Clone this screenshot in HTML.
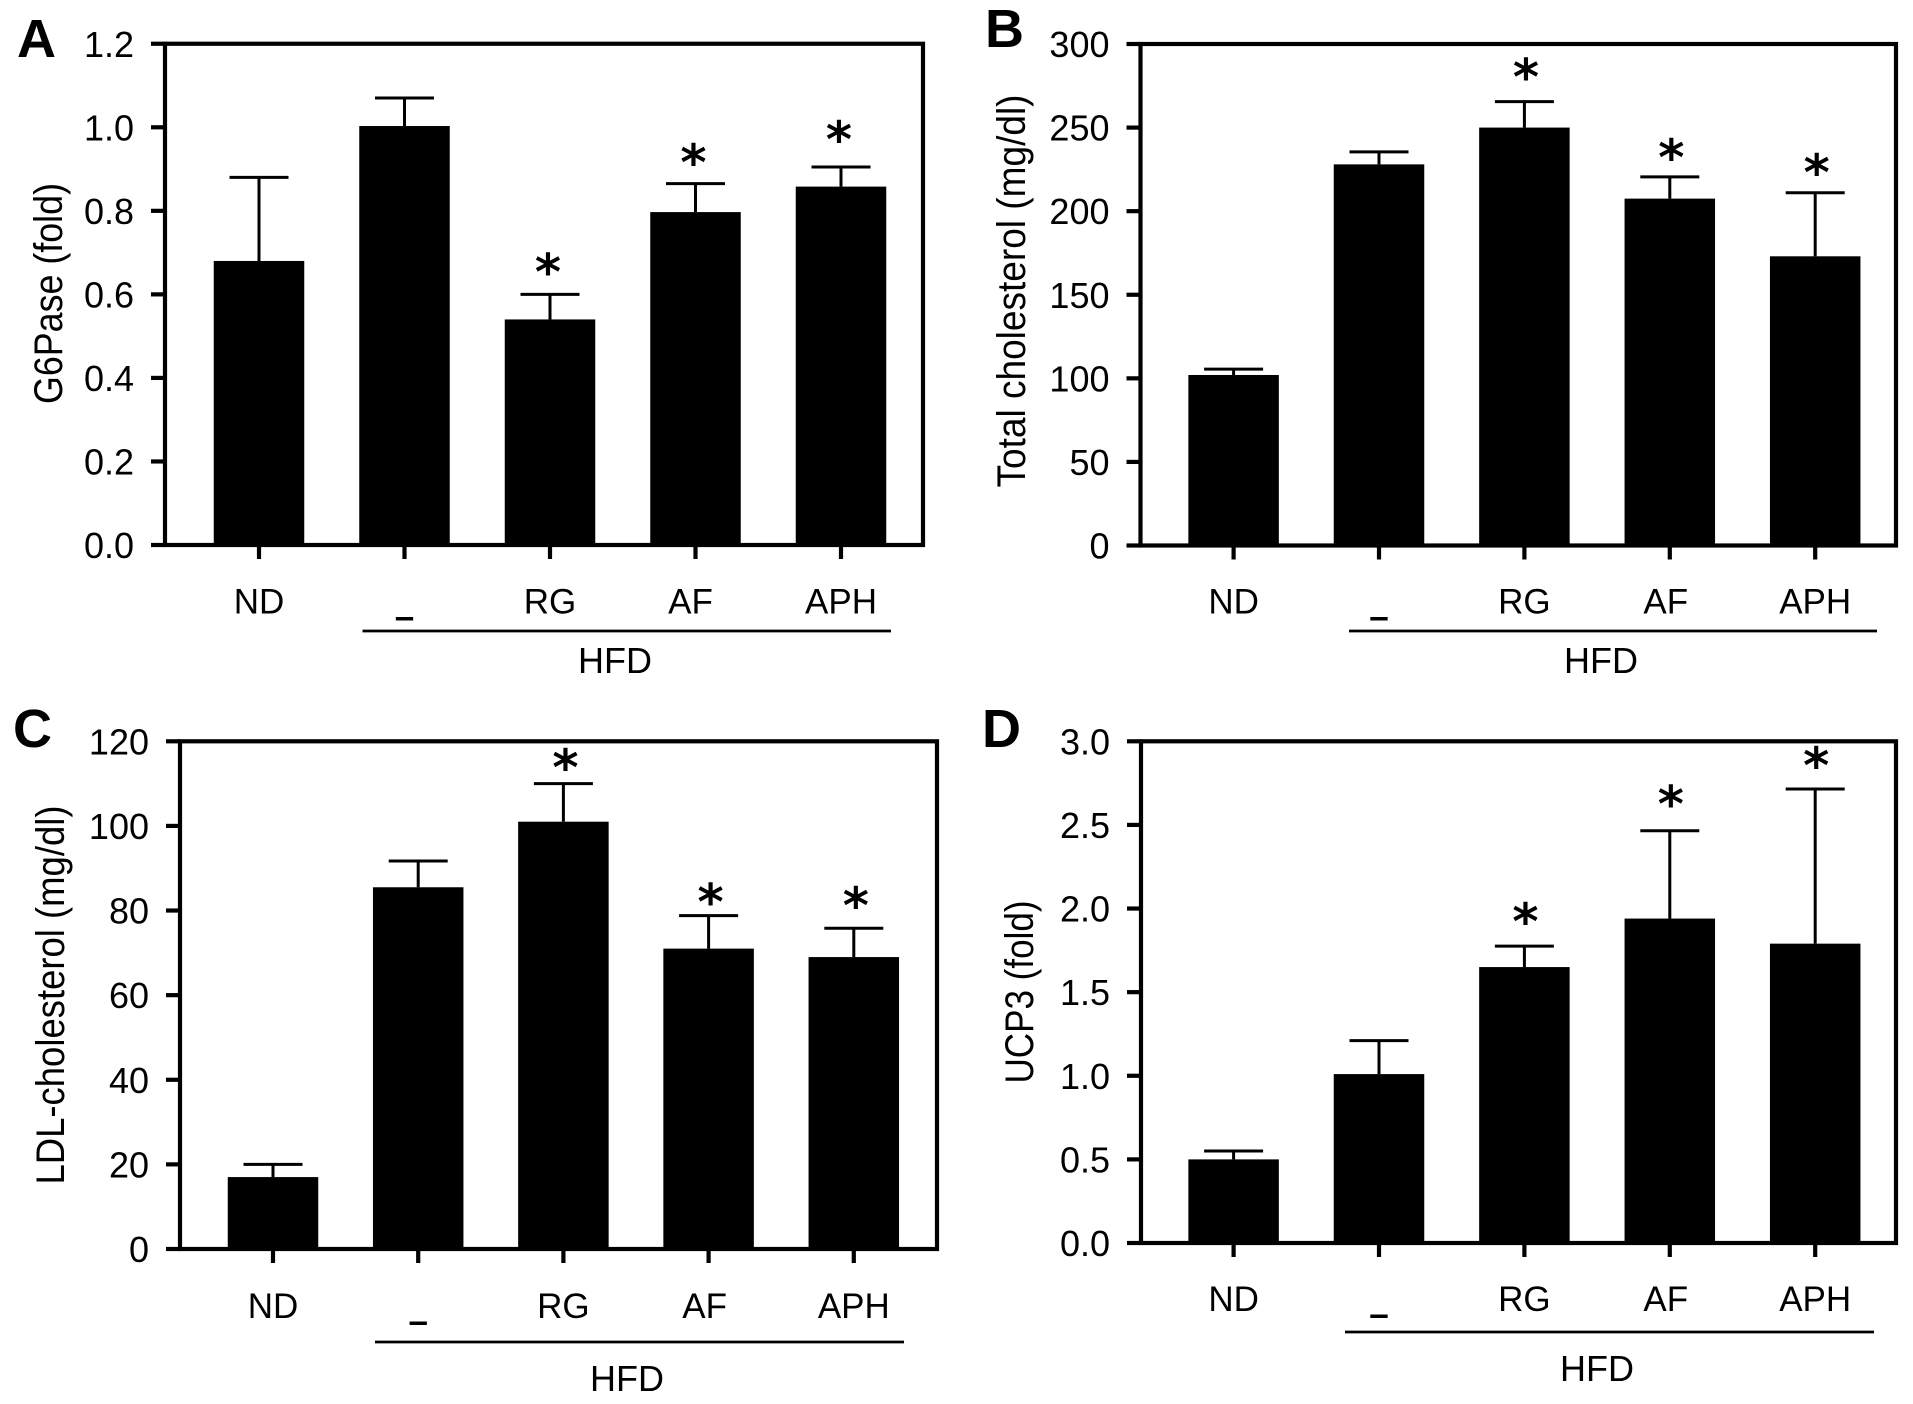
<!DOCTYPE html>
<html lang="en">
<head>
<meta charset="utf-8">
<title>G6Pase, cholesterol and UCP3 bar charts</title>
<style>
  html, body { margin: 0; padding: 0; background: #fff; }
  svg { display: block; }
  text { font-family: "Liberation Sans", Arial, sans-serif; fill: #000; }
  .letter { font-weight: bold; font-size: 54px; }
  .ytitle { font-size: 40px; }
  .hfd { font-size: 36px; text-anchor: middle; }
</style>
</head>
<body>
<svg id="figure" xmlns="http://www.w3.org/2000/svg" width="1913" height="1404" viewBox="0 0 1913 1404">
  <rect width="1913" height="1404" fill="#fff"/>

  <text class="letter" x="17" y="57">A</text>
  <text class="letter" x="985" y="47">B</text>
  <text class="letter" x="13" y="747">C</text>
  <text class="letter" x="982" y="747">D</text>

  <text class="ytitle" transform="translate(62 293.5) rotate(-90)" text-anchor="middle" textLength="221" lengthAdjust="spacingAndGlyphs">G6Pase (fold)</text>
  <text class="ytitle" transform="translate(1025 291) rotate(-90)" text-anchor="middle" textLength="393" lengthAdjust="spacingAndGlyphs">Total cholesterol (mg/dl)</text>
  <text class="ytitle" transform="translate(64 995) rotate(-90)" text-anchor="middle" textLength="379" lengthAdjust="spacingAndGlyphs">LDL-cholesterol (mg/dl)</text>
  <text class="ytitle" transform="translate(1033 992) rotate(-90)" text-anchor="middle" textLength="183" lengthAdjust="spacingAndGlyphs">UCP3 (fold)</text>

  <line x1="362.5" x2="891" y1="631" y2="631" stroke="#000" stroke-width="2.8"/>
  <line x1="1349" x2="1877" y1="631" y2="631" stroke="#000" stroke-width="2.8"/>
  <line x1="375" x2="904" y1="1342" y2="1342" stroke="#000" stroke-width="2.8"/>
  <line x1="1345" x2="1874" y1="1332" y2="1332" stroke="#000" stroke-width="2.8"/>

  <text class="hfd" x="615" y="673">HFD</text>
  <text class="hfd" x="1601" y="673">HFD</text>
  <text class="hfd" x="627" y="1391">HFD</text>
  <text class="hfd" x="1597" y="1381">HFD</text>
</svg>

<script>
// Shared categories
const categories = ['ND', '–', 'RG', 'AF', 'APH'];

// Panel A: G6Pase (fold)
const ticksA = ['0.0', '0.2', '0.4', '0.6', '0.8', '1.0', '1.2'];
const meansA = [0.68, 1.003, 0.54, 0.797, 0.858];
const errorTopsA = [0.88, 1.07, 0.6, 0.865, 0.905];
const starGapsA = [null, null, 0.069, 0.066, 0.081];

// Panel B: Total cholesterol (mg/dl)
const ticksB = ['0', '50', '100', '150', '200', '250', '300'];
const meansB = [102, 228, 250, 207.5, 173];
const errorTopsB = [105.5, 235.5, 265.5, 220.5, 211];
const starGapsB = [null, null, 18.5, 15.5, 16];

// Panel C: LDL-cholesterol (mg/dl)
const ticksC = ['0', '20', '40', '60', '80', '100', '120'];
const meansC = [17, 85.5, 101, 71, 69];
const errorTopsC = [20, 91.7, 110, 78.8, 75.8];
const starGapsC = [null, null, 5.4, 4.7, 6.9];

// Panel D: UCP3 (fold)
const ticksD = ['0.0', '0.5', '1.0', '1.5', '2.0', '2.5', '3.0'];
const meansD = [0.5, 1.01, 1.65, 1.94, 1.79];
const errorTopsD = [0.55, 1.21, 1.775, 2.465, 2.715];
const starGapsD = [null, null, 0.185, 0.2, 0.18];

const SVG_NS = 'http://www.w3.org/2000/svg';
const figure = document.getElementById('figure');

function make(tag, attrs, content) {
  const node = document.createElementNS(SVG_NS, tag);
  Object.keys(attrs).forEach(function (k) { node.setAttribute(k, attrs[k]); });
  if (content !== undefined) node.textContent = content;
  figure.appendChild(node);
  return node;
}

function drawPanel(p) {
  const maxTick = parseFloat(p.ticks[p.ticks.length - 1]);
  const yScale = function (v) { return p.bottom - (v / maxTick) * (p.bottom - p.top); };
  const xScale = function (i) { return p.first + i * p.step; };
  const axisW = 4.2, thin = 3, barW = 90.5, capW = 59;

  // bars, error bars and stars
  categories.forEach(function (cat, i) {
    const cx = xScale(i);
    const key = p.id + '-' + (cat === '–' ? 'hfd' : cat.toLowerCase());

    const stem = make('line', { x1: cx, x2: cx, y1: yScale(p.means[i]), y2: yScale(p.errorTops[i]), stroke: '#000', 'stroke-width': thin });
    
    

    const cap = make('line', { x1: cx - capW / 2, x2: cx + capW / 2, y1: yScale(p.errorTops[i]), y2: yScale(p.errorTops[i]), stroke: '#000', 'stroke-width': thin });
    
    

    const bar = make('rect', { x: cx - barW / 2, y: yScale(p.means[i]), width: barW, height: p.bottom - yScale(p.means[i]), fill: '#000' });
    
    

    if (p.starGaps[i] !== null) {
      const star = make('text', { x: cx + p.starShift, y: yScale(p.errorTops[i] + p.starGaps[i]) + 24, 'text-anchor': 'middle', 'font-size': 50, 'font-weight': 'bold', style: 'font-family:"DejaVu Sans",sans-serif' }, '*');
      
      
    }

    const xTick = make('line', { x1: cx, x2: cx, y1: p.bottom, y2: p.bottom + 14, stroke: '#000', 'stroke-width': axisW });
    
    

    const isDash = cat === '–';
    const labelX = cx + (cat === 'AF' ? p.afShift : 0);
    const label = make('text', { x: labelX, y: p.labelBase + (isDash ? p.dashDrop : 0), 'text-anchor': 'middle', 'font-size': 35, 'font-weight': isDash ? 'bold' : 'normal' }, cat);
    
    
  });

  // y ticks and labels
  p.ticks.forEach(function (t) {
    const y = yScale(parseFloat(t));
    const tick = make('line', { x1: p.left - 14, x2: p.left, y1: y, y2: y, stroke: '#000', 'stroke-width': axisW });
    
    

    const label = make('text', { x: p.left - 31, y: y + 13, 'text-anchor': 'end', 'font-size': 36 }, t);
    
    
  });

  // plot frame
  const frame = make('rect', { x: p.left, y: p.top, width: p.right - p.left, height: p.bottom - p.top, fill: 'none', stroke: '#000', 'stroke-width': axisW });
  
  
}

drawPanel({ id: 'a', ticks: ticksA, means: meansA, errorTops: errorTopsA, starGaps: starGapsA,
  left: 165, right: 923, top: 43.75, bottom: 545, first: 259, step: 145.5, labelBase: 613.5, dashDrop: 14.5, afShift: -5, starShift: -2 });
drawPanel({ id: 'b', ticks: ticksB, means: meansB, errorTops: errorTopsB, starGaps: starGapsB,
  left: 1140.5, right: 1896, top: 44, bottom: 545.5, first: 1233.6, step: 145.4, labelBase: 613.5, dashDrop: 14.5, afShift: -4, starShift: 1.5 });
drawPanel({ id: 'c', ticks: ticksC, means: meansC, errorTops: errorTopsC, starGaps: starGapsC,
  left: 180, right: 937, top: 741.3, bottom: 1249, first: 273, step: 145.2, labelBase: 1318, dashDrop: 14.5, afShift: -4, starShift: 2 });
drawPanel({ id: 'd', ticks: ticksD, means: meansD, errorTops: errorTopsD, starGaps: starGapsD,
  left: 1141, right: 1896, top: 741.3, bottom: 1243, first: 1233.6, step: 145.4, labelBase: 1311, dashDrop: 14.5, afShift: -4, starShift: 1 });
</script>
</body>
</html>
